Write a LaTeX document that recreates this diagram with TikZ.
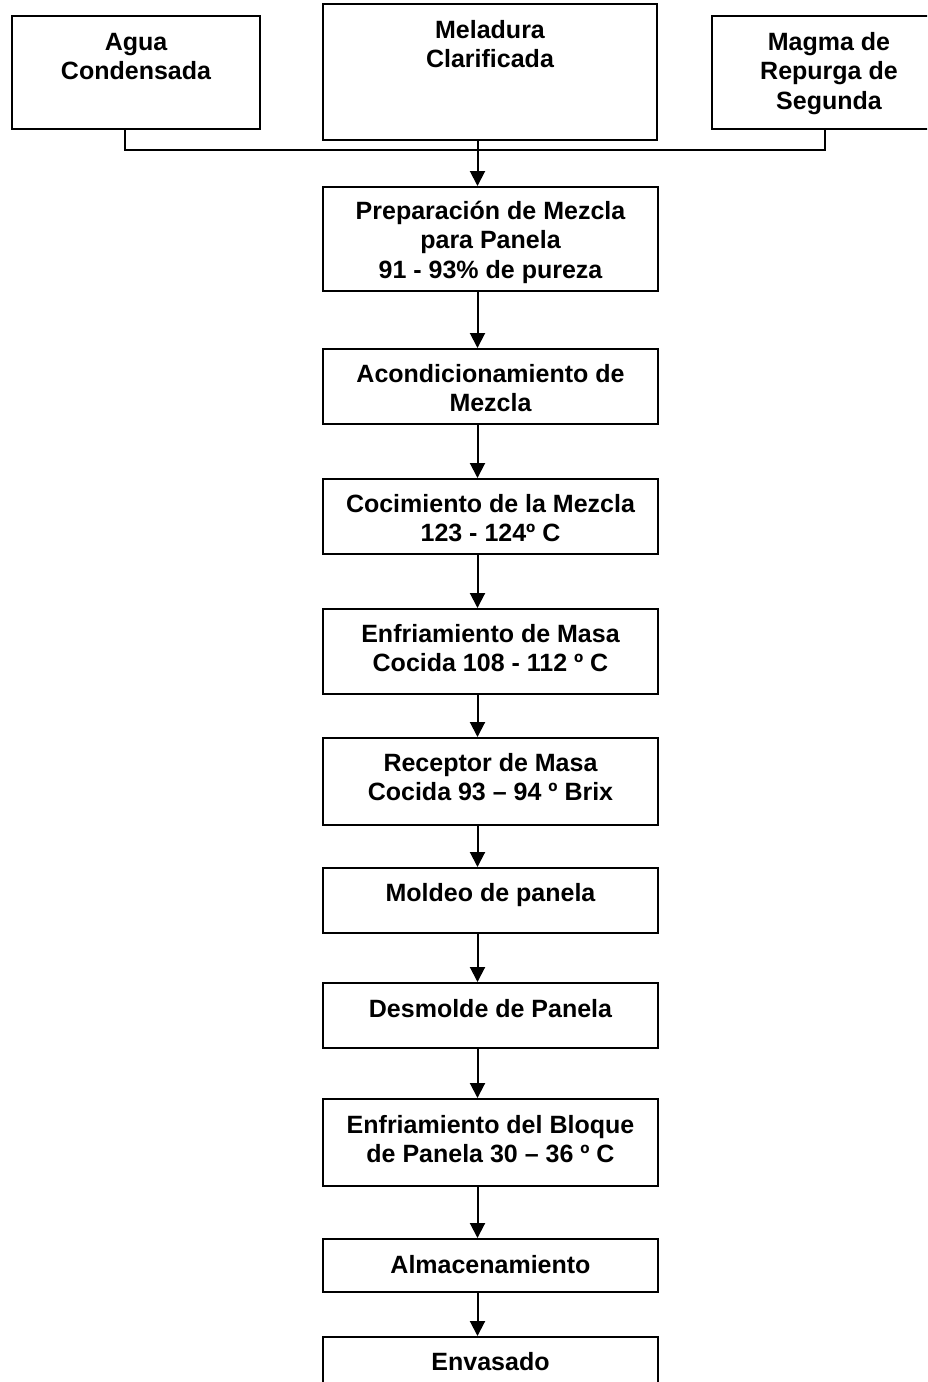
\documentclass[tikz,border=0pt]{standalone}
\usepackage{fontspec}
\setmainfont{Liberation Sans}
\usetikzlibrary{arrows.meta}
\newcommand{\tl}[1]{\begin{tabular}[t]{@{}c@{}}#1\end{tabular}}
\begin{document}
\begin{tikzpicture}[x=1pt,y=-1pt,
  box/.style={draw, line width=2pt, rectangle, inner sep=0pt, anchor=north west},
  lbl/.style={anchor=base, inner sep=0pt, font=\fontsize{25}{29.5}\selectfont\bfseries},
  flow/.style={line width=2pt, -{Triangle[width=15pt,length=15pt]}},
  link/.style={line width=2pt}]
\useasboundingbox (0,0) rectangle (927,1382);
\clip (0,0) rectangle (927,1382);
% top boxes
\node[box, minimum width=248pt, minimum height=113pt] (L) at (11,15) {};
\node[lbl] (Lt) at ([yshift=-35pt]L.north) {\tl{Agua\\Condensada}};
\node[box, minimum width=334pt, minimum height=136pt] (M) at (322,3) {};
\node[lbl] (Mt) at ([yshift=-35pt]M.north) {\tl{Meladura\\Clarificada}};
\node[box, minimum width=234pt, minimum height=113pt] (R) at (711,15) {};
\node[lbl] (Rt) at ([yshift=-35pt]R.north) {\tl{Magma de\\Repurga de\\Segunda}};
% process boxes
\node[box, minimum width=335pt, minimum height=104pt] (b1) at (322,186) {};
\node[lbl] (b1t) at ([yshift=-33pt]b1.north) {\tl{Preparación de Mezcla\\para Panela\\91 - 93\% de pureza}};
\node[box, minimum width=335pt, minimum height=75pt] (b2) at (322,348) {};
\node[lbl] (b2t) at ([yshift=-34pt]b2.north) {\tl{Acondicionamiento de\\Mezcla}};
\node[box, minimum width=335pt, minimum height=75pt] (b3) at (322,478) {};
\node[lbl] (b3t) at ([yshift=-34pt]b3.north) {\tl{Cocimiento de la Mezcla\\123 - 124º C}};
\node[box, minimum width=335pt, minimum height=85pt] (b4) at (322,608) {};
\node[lbl] (b4t) at ([yshift=-34pt]b4.north) {\tl{Enfriamiento de Masa\\Cocida 108 - 112 º C}};
\node[box, minimum width=335pt, minimum height=87pt] (b5) at (322,737) {};
\node[lbl] (b5t) at ([yshift=-34pt]b5.north) {\tl{Receptor de Masa\\Cocida 93 – 94 º Brix}};
\node[box, minimum width=335pt, minimum height=65pt] (b6) at (322,867) {};
\node[lbl] (b6t) at ([yshift=-34pt]b6.north) {\tl{Moldeo de panela}};
\node[box, minimum width=335pt, minimum height=65pt] (b7) at (322,982) {};
\node[lbl] (b7t) at ([yshift=-35pt]b7.north) {\tl{Desmolde de Panela}};
\node[box, minimum width=335pt, minimum height=87pt] (b8) at (322,1098) {};
\node[lbl] (b8t) at ([yshift=-35pt]b8.north) {\tl{Enfriamiento del Bloque\\de Panela 30 – 36 º C}};
\node[box, minimum width=335pt, minimum height=53pt] (b9) at (322,1238) {};
\node[lbl] (b9t) at ([yshift=-35pt]b9.north) {\tl{Almacenamiento}};
\node[box, minimum width=335pt, minimum height=70pt] (b10) at (322,1336) {};
\node[lbl] (b10t) at ([yshift=-34pt]b10.north) {\tl{Envasado}};
% connectors
\coordinate (ax) at (477.5,0);
\coordinate (jy) at (0,150);
\draw[link] ([xshift=-11pt]L.south) -- ([xshift=-11pt]L.south |- jy) -- ([xshift=-4pt]R.south |- jy) -- ([xshift=-4pt]R.south);
\draw[flow] (M.south -| ax) -- (b1.north -| ax);
\draw[flow] (b1.south -| ax) -- (b2.north -| ax);
\draw[flow] (b2.south -| ax) -- (b3.north -| ax);
\draw[flow] (b3.south -| ax) -- (b4.north -| ax);
\draw[flow] (b4.south -| ax) -- (b5.north -| ax);
\draw[flow] (b5.south -| ax) -- (b6.north -| ax);
\draw[flow] (b6.south -| ax) -- (b7.north -| ax);
\draw[flow] (b7.south -| ax) -- (b8.north -| ax);
\draw[flow] (b8.south -| ax) -- (b9.north -| ax);
\draw[flow] (b9.south -| ax) -- (b10.north -| ax);
\end{tikzpicture}
\end{document}
